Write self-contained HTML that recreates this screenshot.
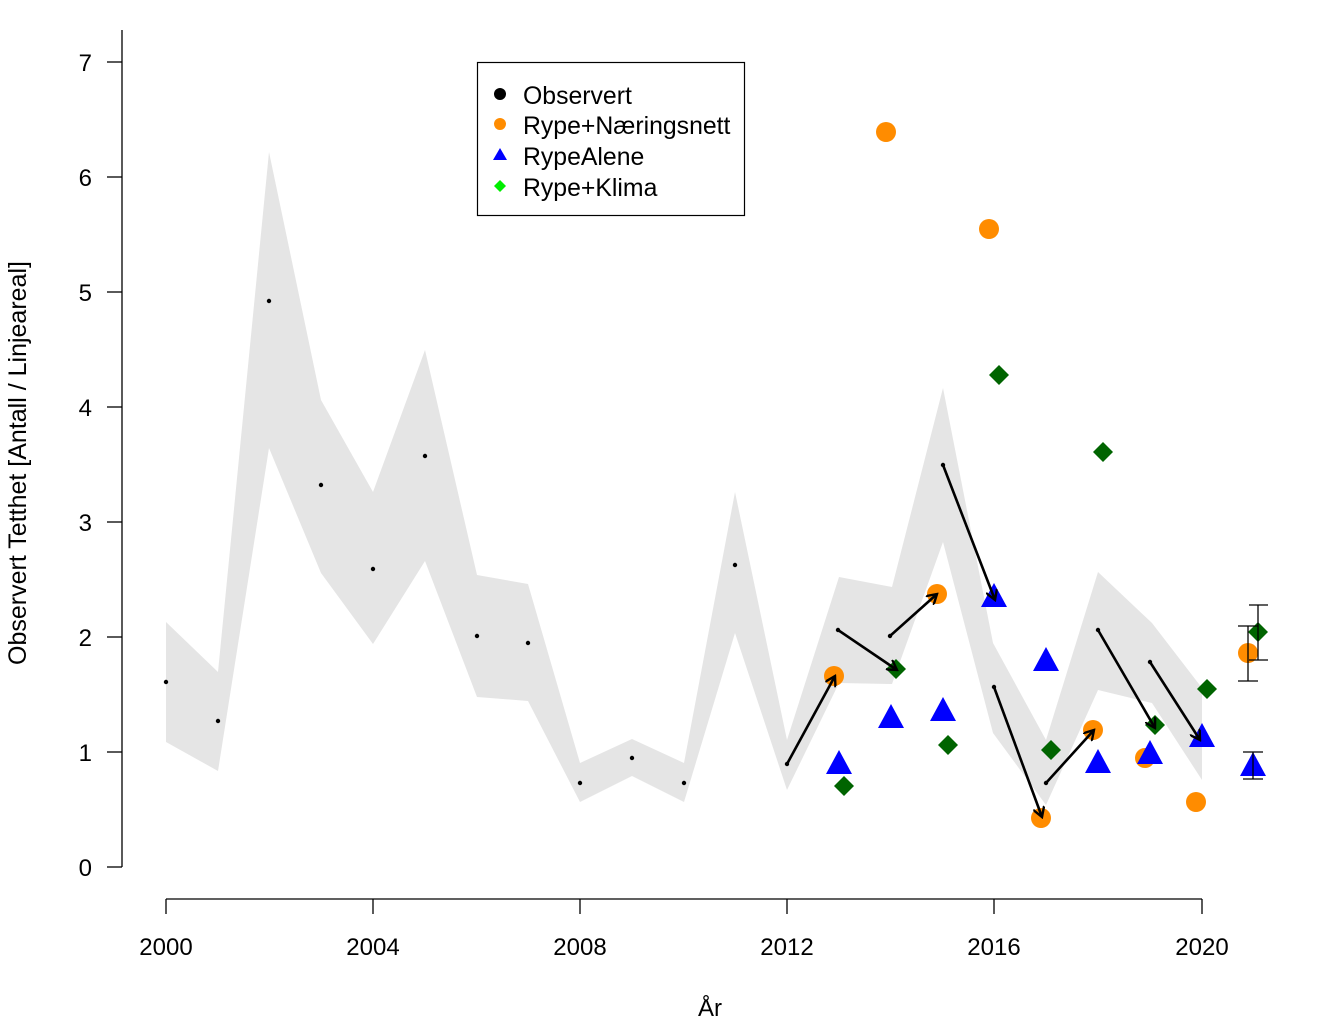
<!DOCTYPE html>
<html><head><meta charset="utf-8"><style>
html,body{margin:0;padding:0;background:#fff;}
svg{display:block;font-family:"Liberation Sans",Arial,sans-serif;}
</style></head><body>
<svg width="1328" height="1022" viewBox="0 0 1328 1022" xmlns="http://www.w3.org/2000/svg">
<defs>
<marker id="ah" markerWidth="12" markerHeight="12" refX="10" refY="6" orient="auto" markerUnits="userSpaceOnUse" viewBox="0 0 12 12">
<path d="M0,0 L10,6 L0,12" fill="none" stroke="#000" stroke-width="2.4"/>
</marker>
</defs>
<rect width="1328" height="1022" fill="#fff"/>
<polygon fill="#e5e5e5" points="166,622 218,672 269,152 321,400 373,492 425,350 477,575 528,584 580,763 632,739 684,763 735,492 787,740 839,577 892,587 943,388 993,643 1046,740 1098,572 1152,623 1202,688 1202,780 1152,703 1098,690 1046,805 993,733 943,542 892,684 839,683 787,790 735,633 684,802 632,776 580,802 528,701 477,697 425,561 373,644 321,573 269,448 218,771 166,742"/>
<g fill="#000">
<circle cx="166" cy="682" r="2.2"/><circle cx="218" cy="721" r="2.2"/><circle cx="269" cy="301" r="2.2"/><circle cx="321" cy="485" r="2.2"/><circle cx="373" cy="569" r="2.2"/><circle cx="425" cy="456" r="2.2"/><circle cx="477" cy="636" r="2.2"/><circle cx="528" cy="643" r="2.2"/><circle cx="580" cy="783" r="2.2"/><circle cx="632" cy="758" r="2.2"/><circle cx="684" cy="783" r="2.2"/><circle cx="735" cy="565" r="2.2"/><circle cx="787" cy="764" r="2.2"/>
<circle cx="838" cy="630" r="2.2"/><circle cx="890" cy="636" r="2.2"/><circle cx="943" cy="465" r="2.2"/><circle cx="994" cy="687" r="2.2"/><circle cx="1046" cy="783" r="2.2"/><circle cx="1098" cy="630" r="2.2"/><circle cx="1150" cy="662" r="2.2"/>
</g>
<g fill="#006400">
<polygon points="844,776 854,786 844,796 834,786"/>
<polygon points="896,659 906,669 896,679 886,669"/>
<polygon points="948,735 958,745 948,755 938,745"/>
<polygon points="999,365 1009,375 999,385 989,375"/>
<polygon points="1051,740 1061,750 1051,760 1041,750"/>
<polygon points="1103,442 1113,452 1103,462 1093,452"/>
<polygon points="1155,715 1165,725 1155,735 1145,725"/>
<polygon points="1207,679 1217,689 1207,699 1197,689"/>
<polygon points="1258,622 1268,632 1258,642 1248,632"/>
</g>
<g fill="#ff8c00">
<circle cx="834" cy="676" r="10"/><circle cx="886" cy="132" r="10"/><circle cx="937" cy="594" r="10"/><circle cx="989" cy="229" r="10"/><circle cx="1041" cy="818" r="10"/><circle cx="1093" cy="730" r="10"/><circle cx="1145" cy="758" r="10"/><circle cx="1196" cy="802" r="10"/><circle cx="1248" cy="653" r="10"/>
</g>
<g fill="#0000ff">
<polygon points="839,750 852,774 826,774"/>
<polygon points="891,704 904,728 878,728"/>
<polygon points="943,697 956,721 930,721"/>
<polygon points="994,583 1007,607 981,607"/>
<polygon points="1046,647 1059,671 1033,671"/>
<polygon points="1098,749 1111,773 1085,773"/>
<polygon points="1150,740 1163,764 1137,764"/>
<polygon points="1202,723 1215,747 1189,747"/>
<polygon points="1253,752 1266,776 1240,776"/>
</g>
<g stroke="#000" stroke-width="2.6" fill="none" marker-end="url(#ah)">
<line x1="787" y1="764" x2="835" y2="676"/>
<line x1="838" y1="630" x2="897" y2="670"/>
<line x1="890" y1="636" x2="937" y2="594"/>
<line x1="943" y1="465" x2="995" y2="600"/>
<line x1="994" y1="687" x2="1042" y2="817"/>
<line x1="1046" y1="783" x2="1094" y2="730"/>
<line x1="1098" y1="630" x2="1155" y2="728"/>
<line x1="1150" y1="662" x2="1200" y2="740"/>
</g>
<g stroke="#000" stroke-width="1.3">
<line x1="1248" y1="626" x2="1248" y2="681"/><line x1="1238" y1="626" x2="1258" y2="626"/><line x1="1238" y1="681" x2="1258" y2="681"/>
<line x1="1258" y1="605" x2="1258" y2="660"/><line x1="1249" y1="605" x2="1268" y2="605"/><line x1="1249" y1="660" x2="1268" y2="660"/>
<line x1="1253" y1="752" x2="1253" y2="779"/><line x1="1243" y1="752" x2="1263" y2="752"/><line x1="1243" y1="779" x2="1263" y2="779"/>
</g>
<g stroke="#000" stroke-width="1.3" fill="none">
<line x1="122" y1="30" x2="122" y2="867"/>
<line x1="107" y1="867" x2="122" y2="867"/><line x1="107" y1="752" x2="122" y2="752"/><line x1="107" y1="637" x2="122" y2="637"/><line x1="107" y1="522" x2="122" y2="522"/><line x1="107" y1="407" x2="122" y2="407"/><line x1="107" y1="292" x2="122" y2="292"/><line x1="107" y1="177" x2="122" y2="177"/><line x1="107" y1="62" x2="122" y2="62"/>
<line x1="166" y1="899" x2="1202" y2="899"/>
<line x1="166" y1="899" x2="166" y2="914"/><line x1="373" y1="899" x2="373" y2="914"/><line x1="580" y1="899" x2="580" y2="914"/><line x1="787" y1="899" x2="787" y2="914"/><line x1="994" y1="899" x2="994" y2="914"/><line x1="1202" y1="899" x2="1202" y2="914"/>
</g>
<g font-size="24" fill="#000" text-anchor="end">
<text x="92" y="876">0</text><text x="92" y="761">1</text><text x="92" y="646">2</text><text x="92" y="531">3</text><text x="92" y="416">4</text><text x="92" y="301">5</text><text x="92" y="186">6</text><text x="92" y="71">7</text>
</g>
<g font-size="24" fill="#000" text-anchor="middle">
<text x="166" y="955">2000</text><text x="373" y="955">2004</text><text x="580" y="955">2008</text><text x="787" y="955">2012</text><text x="994" y="955">2016</text><text x="1202" y="955">2020</text>
<text x="710" y="1016">År</text>
<text transform="translate(26,463) rotate(-90)" font-size="25">Observert Tetthet [Antall / Linjeareal]</text>
</g>
<rect x="477.5" y="62.5" width="267" height="153" fill="#fff" stroke="#000" stroke-width="1.2"/>
<circle cx="500" cy="94" r="6" fill="#000"/>
<circle cx="500" cy="124" r="6" fill="#ff8c00"/>
<polygon points="500,148 507,160 493,160" fill="#0000ff"/>
<polygon points="500,180 506,186 500,192 494,186" fill="#00ee00"/>
<g font-size="24.8" fill="#000">
<text x="523" y="104">Observert</text>
<text x="523" y="134">Rype+Næringsnett</text>
<text x="523" y="165">RypeAlene</text>
<text x="523" y="196">Rype+Klima</text>
</g>
</svg>
</body></html>
